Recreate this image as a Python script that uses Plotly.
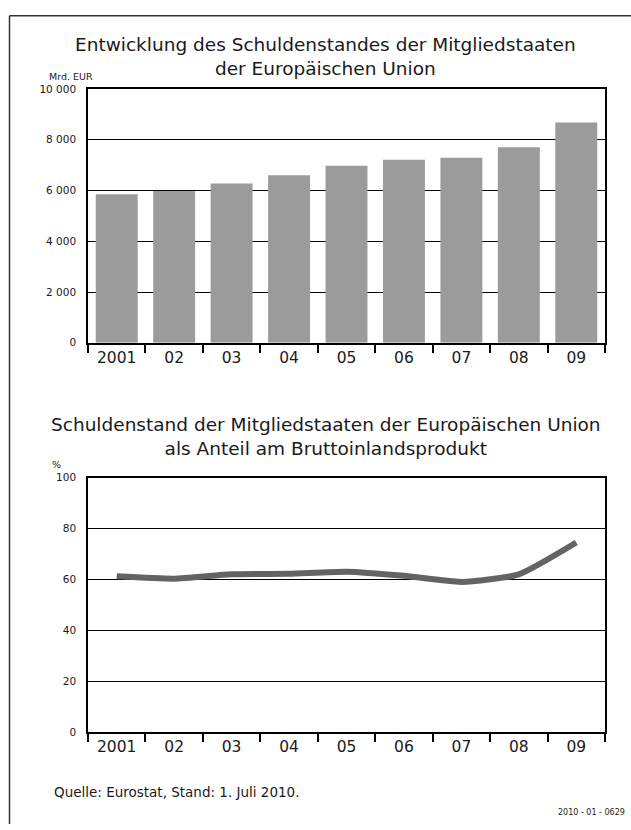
import plotly.graph_objects as go

years = ["2001", "02", "03", "04", "05", "06", "07", "08", "09"]
debt_bn_eur = [5850, 5980, 6280, 6600, 6970, 7210, 7290, 7700, 8680]
debt_pct_gdp = [61.2, 60.3, 62.0, 62.2, 63.0, 61.4, 59.0, 62.0, 74.5]
y1_ticks = [0, 2000, 4000, 6000, 8000, 10000]
y1_labels = ["0", "2 000", "4 000", "6 000", "8 000", "10 000"]
y2_ticks = [0, 20, 40, 60, 80, 100]

W, H = 631, 830
FONT = "DejaVu Sans"
TXT = "#1a1a1a"

def py(px):
    return 1 - px / H

def pxx(px):
    return px / W

fig = go.Figure()
fig.add_trace(go.Bar(x=years, y=debt_bn_eur, marker_color="#9b9b9b",
                     marker_line_width=0, xaxis="x", yaxis="y", showlegend=False))
fig.add_trace(go.Scatter(x=years, y=debt_pct_gdp, mode="lines",
                         line=dict(color="#636363", width=6, shape="spline", smoothing=0.5),
                         xaxis="x2", yaxis="y2", showlegend=False))

xdom = [pxx(88), pxx(605)]
xcommon = dict(domain=xdom, type="category", range=[-0.5, 8.5], showline=True,
               linecolor="black", linewidth=1.5,
               mirror=True, ticks="outside", tickson="boundaries", ticklen=8, tickwidth=1.5,
               tickcolor="black", showgrid=False, zeroline=False,
               tickfont=dict(family=FONT, size=15.5, color=TXT), fixedrange=True)
ycommon = dict(showline=True, linecolor="black", linewidth=1.5, mirror=True,
               showgrid=True, gridcolor="black", gridwidth=1, zeroline=False,
               ticks="", tickfont=dict(family=FONT, size=10.5, color=TXT), ticklabelstandoff=8)

fig.update_layout(
    width=W, height=H, margin=dict(l=0, r=0, t=0, b=0),
    paper_bgcolor="white", plot_bgcolor="white", bargap=0.27,
    xaxis=dict(anchor="y", **xcommon),
    yaxis=dict(domain=[py(341.7), py(84.2)], range=[0, 10000], tickvals=y1_ticks,
               ticktext=y1_labels, anchor="x", **ycommon),
    xaxis2=dict(anchor="y2", **xcommon),
    yaxis2=dict(domain=[py(736.8), py(478.5)], range=[0, 100], tickvals=y2_ticks,
                anchor="x2", **ycommon),
)

annotations = [
    dict(text="Entwicklung des Schuldenstandes der Mitgliedstaaten<br>der Europäischen Union",
         x=pxx(325), y=py(51), xanchor="center", yanchor="middle", font=dict(size=18.5)),
    dict(text="Mrd. EUR", x=pxx(47), y=py(72), xanchor="left", yanchor="middle", font=dict(size=9.5)),
    dict(text="Schuldenstand der Mitgliedstaaten der Europäischen Union<br>als Anteil am Bruttoinlandsprodukt",
         x=pxx(326), y=py(437), xanchor="center", yanchor="middle", font=dict(size=18.5)),
    dict(text="%", x=pxx(50), y=py(465), xanchor="left", yanchor="middle", font=dict(size=9.5)),
    dict(text="Quelle: Eurostat, Stand: 1. Juli 2010.", x=pxx(52), y=py(798),
         xanchor="left", yanchor="middle", font=dict(size=13.5)),
    dict(text="2010 - 01 - 0629", x=pxx(627), y=py(818), xanchor="right", yanchor="middle",
         font=dict(size=8)),
]
for a in annotations:
    a.update(xref="paper", yref="paper", showarrow=False)
    a["font"].update(family=FONT, color=TXT)
    a["align"] = "center"
fig.update_layout(annotations=annotations)

fig.add_shape(type="line", xref="paper", yref="paper", x0=pxx(9.5), x1=pxx(9.5),
              y0=py(10), y1=0, line=dict(color="#333", width=1.5))
fig.add_shape(type="line", xref="paper", yref="paper", x0=pxx(9.5), x1=1,
              y0=py(10), y1=py(10), line=dict(color="#333", width=1.5))

fig.write_html("out.html", config={"displayModeBar": False})
